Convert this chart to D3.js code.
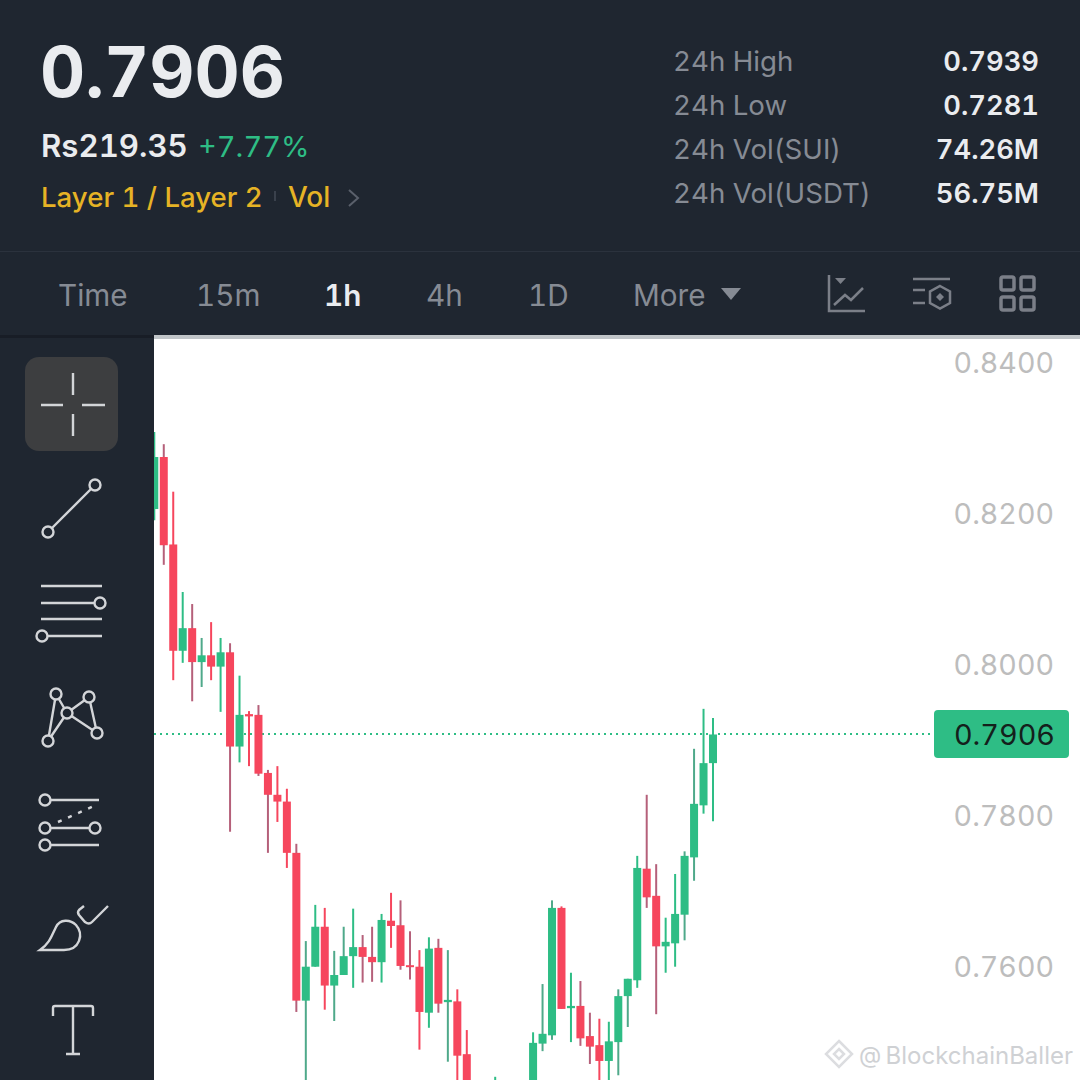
<!DOCTYPE html>
<html>
<head>
<meta charset="utf-8">
<script src="https://cdn.jsdelivr.net/npm/d3@7"></script>
<style>
  html, body { margin: 0; padding: 0; background: #1f2630; overflow: hidden; }
  svg { display: block; }
  text { font-family: Inter, "Noto Sans", sans-serif; font-variant-numeric: tabular-nums; font-feature-settings: "tnum"; }
</style>
</head>
<body>
<script>
// Candle data. Candles 34, 35, 37, 38, 39 are below the screen edge.
const candleIndex = [0,1,2,3,4,5,6,7,8,9,10,11,12,13,14,15,16,17,18,19,20,21,22,23,24,25,26,27,28,29,30,31,32,33,36,40,41,42,43,44,45,46,47,48,49,50,51,52,53,54,55,56,57,58,59];
const openPrices = [.8205,.8274,.8158,.8017,.8047,.8002,.8011,.7996,.8015,.7890,.7933,.7932,.7855,.7826,.7817,.7749,.7553,.7598,.7651,.7573,.7587,.7612,.7624,.7611,.7604,.7659,.7653,.7600,.7598,.7537,.7623,.7551,.7552,.7482,.7430,.7440,.7496,.7507,.7676,.7543,.7546,.7506,.7494,.7473,.7498,.7559,.7580,.7728,.7692,.7625,.7629,.7667,.7743,.7812,.7868];
const highPrices = [.8307,.8291,.8228,.8095,.8079,.8034,.8055,.8034,.8027,.7984,.7937,.7945,.7859,.7864,.7834,.7761,.7632,.7680,.7676,.7619,.7651,.7675,.7640,.7651,.7668,.7696,.7686,.7645,.7620,.7637,.7635,.7620,.7568,.7514,.7452,.7511,.7575,.7686,.7678,.7590,.7579,.7537,.7529,.7525,.7568,.7582,.7745,.7826,.7734,.7663,.7721,.7751,.7887,.7940,.7928];
const lowPrices = [.8190,.8131,.7978,.8001,.7950,.7969,.7978,.7936,.7777,.7869,.7864,.7851,.7749,.7790,.7729,.7538,.7440,.7598,.7541,.7526,.7587,.7570,.7577,.7578,.7577,.7623,.7594,.7581,.7488,.7517,.7537,.7472,.7440,.7420,.7420,.7430,.7486,.7501,.7542,.7498,.7493,.7469,.7440,.7440,.7454,.7518,.7570,.7676,.7535,.7590,.7598,.7633,.7712,.7801,.7791];
const closePrices = [.8274,.8157,.8017,.8047,.8002,.8011,.7996,.8015,.7890,.7932,.7930,.7854,.7826,.7817,.7749,.7553,.7598,.7651,.7573,.7587,.7612,.7624,.7611,.7604,.7660,.7652,.7599,.7598,.7538,.7622,.7549,.7554,.7480,.7440,.7440,.7497,.7509,.7676,.7542,.7546,.7503,.7492,.7473,.7499,.7559,.7582,.7729,.7690,.7625,.7631,.7668,.7745,.7814,.7868,.7906];

const priceTicks = [0.84, 0.82, 0.80, 0.78, 0.76];
const lastPrice = 0.7906;

const statLabels = ["24h High", "24h Low", "24h Vol(SUI)", "24h Vol(USDT)"];
const statValues = ["0.7939", "0.7281", "74.26M", "56.75M"];
const tabLabels = ["Time", "15m", "1h", "4h", "1D", "More"];

// Wicks that come out duller in the screenshot
const dullWicks = new Set([1,4,5,8,11,12,15,16,19,20,22,23,26,27,30,31,41,42,45,46,49,50,52,53,56,57]);

const green = "#2ebd85", red = "#f6465d";
const dullGreen = "#4fa98a", dullRed = "#b5607a";
const bg = "#1f2630", iconLight = "#d3d5d8", iconGrey = "#7b7f88", textGrey = "#868b94";

let svg = d3.select("body").append("svg")
    .attr("width", 1080)
    .attr("height", 1080)
    .attr("viewBox", "0 0 1080 1080");

svg.append("rect").attr("width", 1080).attr("height", 1080).attr("fill", bg);

// Header
function label(x, y, str, size, fill, weight, anchor) {
    return svg.append("text")
        .attr("x", x).attr("y", y)
        .attr("font-size", size)
        .attr("fill", fill)
        .attr("font-weight", weight || 400)
        .attr("text-anchor", anchor || "start")
        .text(str);
}

label(40, 97, "0.7906", 70, "#eaecef", 700);
label(41, 157, "Rs219.35", 31.2, "#eaecef", 600);
label(198, 157, "+7.77%", 29, green, 400);
label(41, 207, "Layer 1 / Layer 2", 27.6, "#e6b325", 500);
label(288, 207, "Vol", 28, "#e6b325", 500);
svg.append("rect").attr("x", 274).attr("y", 191).attr("width", 2).attr("height", 10).attr("fill", "#3a414c");
svg.append("path").attr("d", "M349,190 L358,198 L349,206").attr("fill", "none").attr("stroke", "#5a606b").attr("stroke-width", 2);

statLabels.forEach(function(s, i) {
    label(673, 71 + i * 44, s, 27.7, textGrey, 400);
    label(1039, 71 + i * 44, statValues[i], 27.3, "#eaecef", 600, "end");
});

svg.append("line").attr("x1", 0).attr("x2", 1080).attr("y1", 251.5).attr("y2", 251.5).attr("stroke", "#2b323d").attr("stroke-width", 1);

// Interval tabs
let tabX = [58, 196, 324, 426, 528, 633];
tabLabels.forEach(function(s, i) {
    let active = s == "1h";
    label(tabX[i], 306, s, 29.7, active ? "#eaecef" : textGrey, active ? 600 : 400);
});
svg.append("path").attr("d", "M721,288 H741 L731,300 Z").attr("fill", textGrey);

// Top right icons
let topIcons = svg.append("g").attr("fill", "none").attr("stroke", iconGrey).attr("stroke-width", 2.5);
topIcons.append("path").attr("d", "M829,275 V311 H865");
topIcons.append("path").attr("d", "M835,278 H846 L840.5,284 Z").attr("fill", iconGrey).attr("stroke", "none");
topIcons.append("path").attr("d", "M834,305 L845,295 L851,300 L863,288");
topIcons.append("path").attr("d", "M913,279 H950 M913,290 H925 M913,303 H925");
topIcons.append("path").attr("d", "M940,286 L950,291.5 V303 L940,308.5 L930,303 V291.5 Z");
topIcons.append("path").attr("d", "M940,293 L944,297 L940,301 L936,297 Z").attr("fill", iconGrey).attr("stroke", "none");
[[1001, 277], [1021, 277], [1001, 297], [1021, 297]].forEach(function(p) {
    topIcons.append("rect").attr("x", p[0]).attr("y", p[1]).attr("width", 13).attr("height", 13)
        .attr("rx", 2).attr("stroke-width", 3.5);
});

// Left drawing tools
svg.append("rect").attr("x", 25).attr("y", 357).attr("width", 93).attr("height", 94).attr("rx", 14).attr("fill", "#3d3e40");
let tools = svg.append("g").attr("fill", "none").attr("stroke", iconLight).attr("stroke-width", 2.4);
tools.append("path").attr("d", "M73,373 V395 M73,414 V436 M41,405 H63 M82,405 H105");

function ring(x, y) {
    tools.append("circle").attr("cx", x).attr("cy", y).attr("r", 5.5).attr("fill", bg);
}
tools.append("path").attr("d", "M48,532 L95,485");
ring(48, 532); ring(95, 485);

tools.append("path").attr("d", "M41,586 H102 M41,603 H95 M41,619 H102 M48,636 H102");
ring(100, 603); ring(42, 636);

tools.append("path").attr("d", "M56,694 L48,741 M56,694 L67,713 M67,713 L48,741 M67,713 L89,697 M67,713 L97,733 M89,697 L97,733");
ring(56, 694); ring(89, 697); ring(67, 713); ring(48, 741); ring(97, 733);

tools.append("path").attr("d", "M45,800 H99 M45,828 H95 M45,845 H99");
tools.append("path").attr("d", "M58,822 L94,806").attr("stroke-dasharray", "4 7").attr("stroke-width", 2.5);
ring(45, 800); ring(45, 828); ring(95, 828); ring(45, 845);

tools.append("path").attr("d", "M40,950 C50,943 52,935 56,927 C60,919 70,919 76,925 C84,934 80,950 64,950 Z");
tools.append("path").attr("d", "M84,906 L79,910 Q77,912 79,915 L85,922 Q89,925 92,922 L108,906");

tools.append("path").attr("d", "M53,1016 V1008 Q53,1006 55,1006 H91 Q93,1006 93,1008 V1016 M73,1006 V1054 M66,1054 H80");

// Chart area
svg.append("rect").attr("x", 154).attr("y", 339).attr("width", 926).attr("height", 741).attr("fill", "#ffffff");
svg.append("rect").attr("x", 154).attr("y", 335).attr("width", 926).attr("height", 4).attr("fill", "#c0c5c8");
svg.append("rect").attr("x", 0).attr("y", 335).attr("width", 154).attr("height", 3).attr("fill", "#181d26");

svg.append("clipPath").attr("id", "plot")
    .append("rect").attr("x", 154).attr("y", 339).attr("width", 926).attr("height", 741);

let x = d3.scaleLinear().domain([0, 59]).range([154.3, 713]);
let y = d3.scaleLinear().domain([0.84, 0.76]).range([362, 965.2]);

// Price axis
let axis = svg.append("g")
    .attr("transform", "translate(1054,0)")
    .call(d3.axisLeft(y).tickValues(priceTicks).tickSize(0).tickPadding(0).tickFormat(d3.format(".4f")));
axis.select(".domain").remove();
axis.selectAll("text")
    .attr("font-size", 28.6)
    .attr("dy", "0.38em")
    .attr("fill", "#bdbdbd")
    .attr("font-family", "Roboto, sans-serif");

// Watermark
label(1073, 1064, "BlockchainBaller", 24, "#cfd1d4", 400, "end").attr("font-family", "'Open Sans', sans-serif");
label(859, 1063, "@", 23, "#cfd1d4", 400).attr("font-family", "'Open Sans', sans-serif");
let mark = svg.append("g").attr("fill", "none").attr("stroke", "#dcdde0").attr("stroke-width", 2.5);
mark.append("path").attr("d", "M839,1041 L852,1054 L839,1067 L826,1054 Z");
mark.append("path").attr("d", "M839,1049 L844,1054 L839,1059 L834,1054 Z");

// Current price line
svg.append("line")
    .attr("x1", 154).attr("x2", 934)
    .attr("y1", y(lastPrice)).attr("y2", y(lastPrice))
    .attr("stroke", green).attr("stroke-width", 2).attr("stroke-dasharray", "2 4")
    .attr("shape-rendering", "crispEdges");

// Candles
let rows = candleIndex.map(function(c, i) {
    return { c: c, o: openPrices[i], h: highPrices[i], l: lowPrices[i], v: closePrices[i] };
});
let bodyW = 8;
let candles = svg.append("g").attr("clip-path", "url(#plot)")
    .selectAll("g").data(rows).join("g");

candles.append("line")
    .attr("x1", d => x(d.c)).attr("x2", d => x(d.c))
    .attr("y1", d => y(d.h)).attr("y2", d => y(d.l))
    .attr("stroke-width", 2)
    .attr("stroke", d => {
        let up = d.v >= d.o;
        if (dullWicks.has(d.c)) return up ? dullGreen : dullRed;
        return up ? green : red;
    });

candles.append("rect")
    .attr("x", d => x(d.c) - bodyW / 2)
    .attr("width", bodyW)
    .attr("y", d => y(Math.max(d.o, d.v)))
    .attr("height", d => Math.max(2, Math.abs(y(d.o) - y(d.v))))
    .attr("fill", d => d.v >= d.o ? green : red);

// Current price tag
svg.append("rect").attr("x", 934).attr("y", 710).attr("width", 135).attr("height", 48).attr("rx", 4).attr("fill", green);
label(1055, 745, d3.format(".4f")(lastPrice), 28.8, "#14201c", 400, "end").attr("font-family", "Roboto, sans-serif");
</script>
</body>
</html>
